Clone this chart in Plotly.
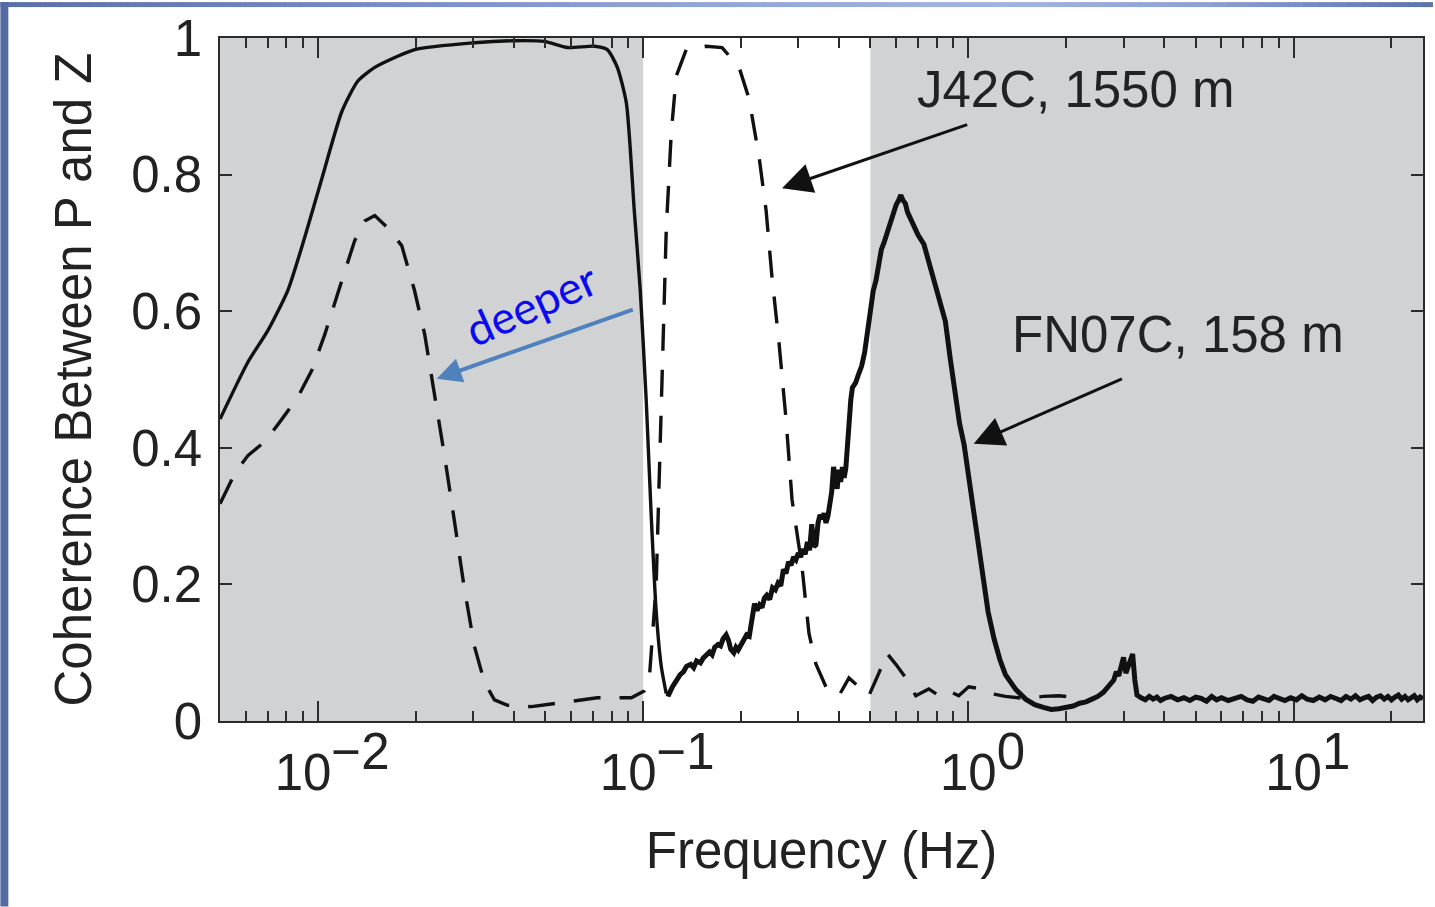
import numpy as np
import plotly.graph_objects as go

# ---------------- data ----------------
# Solid curve, smooth low-frequency part (Hz, coherence)
solid_smooth_freq = [0.0050, 0.0061, 0.00702, 0.00809, 0.00912, 0.01028, 0.01184, 0.01327,
                     0.01496, 0.01986, 0.0303, 0.0402, 0.0497, 0.0585, 0.0708, 0.0776,
                     0.0833, 0.0888, 0.0939, 0.0980, 0.1022, 0.1059, 0.1097, 0.1137, 0.1178]
solid_smooth_coh = [0.442, 0.526, 0.572, 0.631, 0.709, 0.794, 0.892, 0.937,
                    0.957, 0.983, 0.993, 0.996, 0.995, 0.986, 0.988, 0.983,
                    0.957, 0.905, 0.748, 0.630, 0.470, 0.300, 0.160, 0.080, 0.040]

# Solid curve, noisy high-frequency part
solid_noisy_freq = [0.1178, 0.120, 0.123, 0.126, 0.130, 0.133, 0.136, 0.140, 0.143, 0.146,
                    0.150, 0.153, 0.156, 0.160, 0.163, 0.166, 0.170, 0.173, 0.176, 0.180,
                    0.183, 0.186, 0.190, 0.193, 0.196, 0.200, 0.204, 0.208, 0.212, 0.216,
                    0.220, 0.224, 0.228, 0.232, 0.236, 0.240, 0.245, 0.250, 0.255, 0.260,
                    0.265, 0.270, 0.275, 0.280, 0.285, 0.290, 0.295, 0.300, 0.305, 0.310,
                    0.315, 0.320, 0.325, 0.330, 0.335, 0.340, 0.345, 0.350, 0.355, 0.360,
                    0.365, 0.370, 0.375, 0.380, 0.385, 0.390, 0.395, 0.400, 0.405, 0.410,
                    0.415, 0.420, 0.425, 0.430, 0.435, 0.440, 0.450, 0.460, 0.470, 0.480,
                    0.490, 0.500, 0.510, 0.520, 0.530, 0.540, 0.550, 0.560, 0.570, 0.580,
                    0.590, 0.600, 0.610, 0.620, 0.630, 0.640, 0.650, 0.660, 0.670, 0.680,
                    0.700, 0.730, 0.760, 0.790, 0.820, 0.850, 0.880, 0.910, 0.940, 0.970,
                    1.000, 1.050, 1.100, 1.150, 1.200, 1.250, 1.300, 1.400, 1.500, 1.600,
                    1.700, 1.800, 1.900, 2.000, 2.100, 2.200, 2.300, 2.400, 2.500, 2.600,
                    2.700, 2.800, 2.850, 2.900, 2.950, 3.000, 3.050, 3.100, 3.150, 3.200,
                    3.250, 3.300, 3.400, 3.500, 3.600, 3.700, 3.800, 3.900, 4.000, 4.200,
                    4.400, 4.600, 4.800, 5.000, 5.200, 5.400, 5.600, 5.800, 6.000, 6.300,
                    6.600, 6.900, 7.200, 7.500, 7.800, 8.100, 8.400, 8.700, 9.000, 9.400,
                    9.800, 10.2, 10.6, 11.0, 11.5, 12.0, 12.5, 13.0, 13.5, 14.0,
                    14.5, 15.0, 15.5, 16.0, 16.5, 17.0, 17.5, 18.0, 18.5, 19.0,
                    19.5, 20.0, 20.5, 21.0, 21.5, 22.0, 22.5, 23.0, 23.5, 24.0,
                    24.5, 25.0]
solid_noisy_coh = [0.040, 0.039, 0.050, 0.058, 0.068, 0.072, 0.080, 0.083, 0.078, 0.088,
                   0.085, 0.092, 0.096, 0.101, 0.097, 0.108, 0.112, 0.110, 0.120, 0.126,
                   0.118, 0.105, 0.100, 0.108, 0.104, 0.112, 0.118, 0.126, 0.124, 0.150,
                   0.172, 0.162, 0.170, 0.166, 0.180, 0.184, 0.178, 0.195, 0.192, 0.202,
                   0.198, 0.222, 0.216, 0.233, 0.228, 0.240, 0.236, 0.246, 0.240, 0.252,
                   0.244, 0.262, 0.250, 0.288, 0.255, 0.258, 0.290, 0.302, 0.296, 0.304,
                   0.290, 0.300, 0.322, 0.335, 0.372, 0.352, 0.340, 0.368, 0.350, 0.372,
                   0.356, 0.370, 0.410, 0.455, 0.470, 0.488, 0.495, 0.508, 0.520, 0.540,
                   0.575, 0.605, 0.630, 0.645, 0.668, 0.690, 0.700, 0.712, 0.722, 0.735,
                   0.742, 0.756, 0.762, 0.770, 0.762, 0.758, 0.745, 0.738, 0.730, 0.725,
                   0.712, 0.698, 0.668, 0.645, 0.615, 0.585, 0.530, 0.480, 0.435, 0.405,
                   0.360, 0.285, 0.215, 0.160, 0.120, 0.090, 0.068, 0.046, 0.032, 0.024,
                   0.020, 0.017, 0.018, 0.020, 0.022, 0.026, 0.028, 0.032, 0.036, 0.042,
                   0.050, 0.060, 0.072, 0.066, 0.080, 0.093, 0.070, 0.080, 0.090, 0.098,
                   0.060, 0.038, 0.034, 0.031, 0.036, 0.032, 0.035, 0.030, 0.033, 0.036,
                   0.031, 0.034, 0.030, 0.035, 0.033, 0.029, 0.036, 0.031, 0.034, 0.030,
                   0.033, 0.036, 0.031, 0.029, 0.035, 0.032, 0.030, 0.036, 0.033, 0.030,
                   0.034, 0.031, 0.037, 0.032, 0.030, 0.035, 0.031, 0.036, 0.033, 0.030,
                   0.036, 0.032, 0.037, 0.031, 0.034, 0.036, 0.030, 0.035, 0.037, 0.032,
                   0.036, 0.031, 0.035, 0.038, 0.032, 0.036, 0.031, 0.035, 0.037, 0.031,
                   0.035, 0.033]

# Dashed curve
dashed_freq = [0.0050, 0.00556, 0.0061, 0.00687, 0.00775, 0.00867, 0.00957, 0.0105,
               0.01183, 0.01297, 0.01393, 0.01496, 0.0164, 0.0181, 0.0198, 0.0213,
               0.0229, 0.0245, 0.0263, 0.0282, 0.0303, 0.0325, 0.0349, 0.0383,
               0.0454, 0.0573, 0.0723, 0.0920, 0.1007, 0.1044, 0.1097, 0.1137,
               0.1178, 0.1220, 0.1264, 0.1357, 0.1562, 0.1749, 0.1973, 0.2117,
               0.2272, 0.2388, 0.2490, 0.2618, 0.2750, 0.2870, 0.3079, 0.3236,
               0.3400, 0.3649, 0.4000, 0.4294, 0.4607, 0.4944, 0.5307, 0.5616,
               0.5985, 0.6422, 0.6893, 0.7557, 0.8111, 0.8704, 0.9341, 1.0025,
               1.099, 1.18, 1.30, 1.50, 1.70, 1.90, 2.20]
dashed_coh = [0.318, 0.363, 0.389, 0.409, 0.442, 0.474, 0.513, 0.566,
              0.644, 0.703, 0.732, 0.740, 0.722, 0.696, 0.631, 0.566,
              0.474, 0.389, 0.292, 0.194, 0.109, 0.057, 0.031, 0.023,
              0.021, 0.027, 0.034, 0.034, 0.044, 0.060, 0.200, 0.460,
              0.720, 0.860, 0.944, 0.983, 0.988, 0.986, 0.957, 0.911,
              0.826, 0.748, 0.650, 0.553, 0.442, 0.324, 0.226, 0.128,
              0.083, 0.050, 0.037, 0.063, 0.050, 0.037, 0.070, 0.099,
              0.083, 0.063, 0.037, 0.047, 0.037, 0.044, 0.037, 0.050,
              0.047, 0.040, 0.036, 0.033, 0.036, 0.037, 0.034]

# Gray shaded frequency bands (Hz)
band_starts = [0.005, 0.5]
band_ends = [0.1, 25.0]

x_tick_vals = [0.01, 0.1, 1, 10]
x_tick_exps = ["\u22122", "\u22121", "0", "1"]
y_tick_vals = [0, 0.2, 0.4, 0.6, 0.8, 1.0]
y_tick_text = ["0", "0.2", "0.4", "0.6", "0.8", "1"]

# ---------------- figure ----------------
FONT = "Liberation Sans"
INK = "#111111"
AX = "#2b2b2b"
GRAY = "#d1d2d4"
FS = 51

W, H = 1435, 907
ML, MR, MT, MB = 220, 10, 36, 186
PW, PH = W - ML - MR, H - MT - MB
XMIN, XMAX = np.log10(0.005), np.log10(25)


def px_x(p):
    return (p - ML) / PW


def px_y(p):
    return (H - MB - p) / PH


def frac_x(f):
    return (np.log10(f) - XMIN) / (XMAX - XMIN)


fig = go.Figure()

for b0, b1 in zip(band_starts, band_ends):
    fig.add_shape(type="rect", xref="paper", yref="paper", x0=frac_x(b0), x1=frac_x(b1),
                  y0=0, y1=1, fillcolor=GRAY, line_width=0, layer="below")

fig.add_trace(go.Scatter(x=dashed_freq, y=dashed_coh, mode="lines",
                         line=dict(color=INK, width=3.4, dash="27px,19px"),
                         hoverinfo="skip"))
fig.add_trace(go.Scatter(x=solid_smooth_freq, y=solid_smooth_coh, mode="lines",
                         line=dict(color=INK, width=3.4, shape="spline", smoothing=0.6),
                         hoverinfo="skip"))
fig.add_trace(go.Scatter(x=solid_noisy_freq, y=solid_noisy_coh, mode="lines",
                         line=dict(color=INK, width=5),
                         hoverinfo="skip"))

# slide background strips (decoration)
stops = [(0, (88, 112, 166)), (300, (112, 135, 188)), (700, (146, 166, 212)),
         (1000, (162, 180, 222)), (1200, (142, 162, 208)), (1435, (92, 116, 170))]


def col_at(p):
    for (p0, c0), (p1, c1) in zip(stops[:-1], stops[1:]):
        if p0 <= p <= p1:
            t = (p - p0) / (p1 - p0)
            c = [round(a + (b - a) * t) for a, b in zip(c0, c1)]
            return "rgb(%d,%d,%d)" % tuple(c)
    return "rgb(92,116,170)"


step = 15
for p in range(0, W, step):
    fig.add_shape(type="rect", xref="paper", yref="paper",
                  x0=px_x(p), x1=px_x(min(p + step + 1, W)), y0=px_y(5), y1=px_y(0),
                  fillcolor=col_at(p + step / 2), line_width=0, layer="above")
fig.add_shape(type="rect", xref="paper", yref="paper", x0=px_x(0), x1=px_x(8),
              y0=px_y(H), y1=px_y(0), fillcolor="rgb(84,106,162)", line_width=0, layer="above")

# annotations
anns = []
anns.append(dict(text="J42C, 1550 m", x=0.3295, y=0.924, xref="x", yref="y",
                 showarrow=False, font=dict(family=FONT, size=FS, color="#222")))
anns.append(dict(text="FN07C, 158 m", x=0.6456, y=0.566, xref="x", yref="y",
                 showarrow=False, font=dict(family=FONT, size=FS, color="#222")))
anns.append(dict(text="", x=-0.573, y=0.780, ax=0.0011, ay=0.874, xref="x", yref="y",
                 axref="x", ayref="y", showarrow=True, arrowhead=2, arrowsize=2,
                 arrowwidth=3, arrowcolor=INK, standoff=0, startstandoff=0))
anns.append(dict(text="", x=0.0164, y=0.406, ax=0.4768, ay=0.502, xref="x", yref="y",
                 axref="x", ayref="y", showarrow=True, arrowhead=2, arrowsize=2,
                 arrowwidth=3, arrowcolor=INK, standoff=0, startstandoff=0))
anns.append(dict(text="deeper", x=-1.3434, y=0.610, xref="x", yref="y", textangle=-24,
                 showarrow=False, font=dict(family="Lato", size=45, color="#0a0af0")))
anns.append(dict(text="", x=-1.635, y=0.501, ax=-1.0272, ay=0.603, xref="x", yref="y",
                 axref="x", ayref="y", showarrow=True, arrowhead=2, arrowsize=1.25,
                 arrowwidth=4, arrowcolor="#4f81bd", standoff=0, startstandoff=0))

x_tick_text = ["\u00a0\u00a010<sup><span style='font-size:%dpx'>%s</span></sup>" % (FS, e)
               for e in x_tick_exps]
minor_vals = [m * 10.0 ** e for e in (-3, -2, -1, 0, 1) for m in range(2, 10)
              if 0.005 <= m * 10.0 ** e <= 25]

fig.update_layout(
    width=W, height=H,
    margin=dict(l=ML, r=MR, t=MT, b=MB),
    paper_bgcolor="white", plot_bgcolor="white",
    showlegend=False,
    annotations=anns,
    xaxis=dict(type="log", range=[XMIN, XMAX],
               tickmode="array", tickvals=x_tick_vals, ticktext=x_tick_text,
               ticks="inside", ticklen=20, tickwidth=1.5, tickcolor=AX,
               showline=True, linecolor=AX, linewidth=1.5, mirror="ticks",
               showgrid=False, zeroline=False,
               minor=dict(tickmode="array", tickvals=minor_vals, ticks="inside",
                          ticklen=10, tickwidth=1.5, tickcolor=AX, showgrid=False),
               tickfont=dict(family=FONT, size=FS, color="#222"),
               ticklabelstandoff=6,
               title=dict(text="Frequency (Hz)", standoff=32,
                          font=dict(family=FONT, size=FS, color="#222"))),
    yaxis=dict(range=[0, 1], tickmode="array", tickvals=y_tick_vals, ticktext=y_tick_text,
               ticks="inside", ticklen=12, tickwidth=1.5, tickcolor=AX,
               showline=True, linecolor=AX, linewidth=1.5, mirror="ticks",
               showgrid=False, zeroline=False,
               tickfont=dict(family=FONT, size=FS, color="#222"),
               ticklabelstandoff=6,
               title=dict(text="Coherence Between P and Z", standoff=23,
                          font=dict(family=FONT, size=FS, color="#222"))),
)

fig.write_html("out.html", config={"displayModeBar": False},
               post_script="document.body.style.margin='0';")
